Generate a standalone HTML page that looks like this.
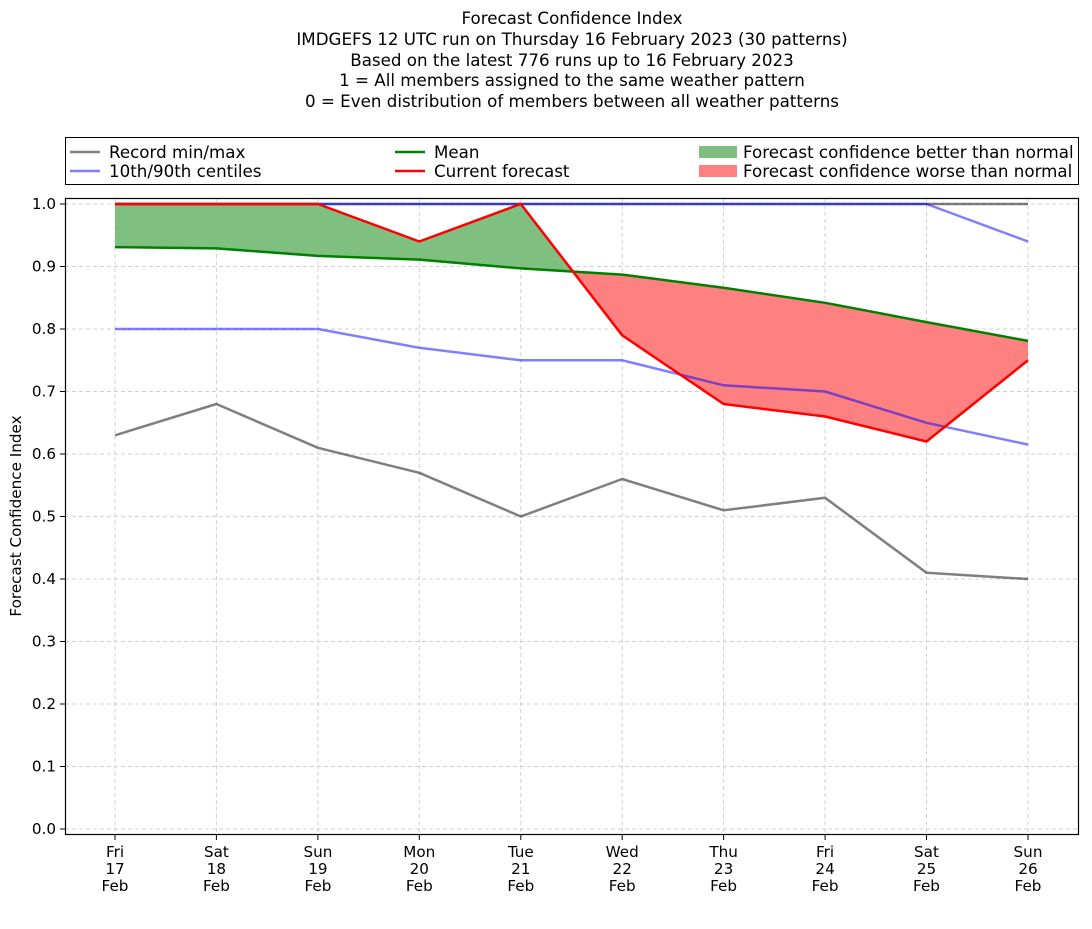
<!DOCTYPE html>
<html><head><meta charset="utf-8"><style>
body{margin:0;background:#fff}
svg text{font-family:"DejaVu Sans","Liberation Sans",sans-serif;fill:#000}
</style></head><body>
<svg width="1092" height="924" xmlns="http://www.w3.org/2000/svg">
<defs>
<clipPath id="above"><polygon points="115,0 115,247.1 216.4,248.4 317.9,255.9 419.3,259.6 520.8,268.4 622.2,274.6 723.6,287.8 825.1,302.8 926.5,322.1 1028,340.9 1028,0"/></clipPath>
<clipPath id="below"><polygon points="115,900 115,247.1 216.4,248.4 317.9,255.9 419.3,259.6 520.8,268.4 622.2,274.6 723.6,287.8 825.1,302.8 926.5,322.1 1028,340.9 1028,900"/></clipPath>
</defs>
<g font-size="16.7" text-anchor="middle">
<text x="572" y="24">Forecast Confidence Index</text>
<text x="572" y="45">IMDGEFS 12 UTC run on Thursday 16 February 2023 (30 patterns)</text>
<text x="572" y="66">Based on the latest 776 runs up to 16 February 2023</text>
<text x="572" y="86">1 = All members assigned to the same weather pattern</text>
<text x="572" y="107">0 = Even distribution of members between all weather patterns</text>
</g>
<rect x="65.5" y="137.5" width="1013" height="47" fill="#fff" stroke="#000"/>
<g font-size="16.7">
<line x1="70" y1="152" x2="100" y2="152" stroke="#808080" stroke-width="2.5"/><text x="109" y="158">Record min/max</text>
<line x1="70" y1="171" x2="100" y2="171" stroke="#8080ff" stroke-width="2.5"/><text x="109" y="177">10th/90th centiles</text>
<line x1="395" y1="152" x2="425" y2="152" stroke="green" stroke-width="2.5"/><text x="434" y="158">Mean</text>
<line x1="395" y1="171" x2="425" y2="171" stroke="red" stroke-width="2.5"/><text x="434" y="177">Current forecast</text>
<rect x="699" y="146" width="38" height="12" fill="#7fbf7f"/><text x="743" y="158">Forecast confidence better than normal</text>
<rect x="699" y="165" width="38" height="12" fill="#ff8080"/><text x="743" y="177">Forecast confidence worse than normal</text>
</g>
<g stroke="#d0d0d0" stroke-dasharray="4,3" stroke-width="1">
<line x1="65" x2="1079" y1="829" y2="829"/><line x1="65" x2="1079" y1="766.5" y2="766.5"/><line x1="65" x2="1079" y1="704" y2="704"/><line x1="65" x2="1079" y1="641.5" y2="641.5"/><line x1="65" x2="1079" y1="579" y2="579"/><line x1="65" x2="1079" y1="516.5" y2="516.5"/><line x1="65" x2="1079" y1="454" y2="454"/><line x1="65" x2="1079" y1="391.5" y2="391.5"/><line x1="65" x2="1079" y1="329" y2="329"/><line x1="65" x2="1079" y1="266.5" y2="266.5"/><line x1="65" x2="1079" y1="204" y2="204"/>
<line y1="198" y2="835" x1="115" x2="115"/><line y1="198" y2="835" x1="216.4" x2="216.4"/><line y1="198" y2="835" x1="317.9" x2="317.9"/><line y1="198" y2="835" x1="419.3" x2="419.3"/><line y1="198" y2="835" x1="520.8" x2="520.8"/><line y1="198" y2="835" x1="622.2" x2="622.2"/><line y1="198" y2="835" x1="723.6" x2="723.6"/><line y1="198" y2="835" x1="825.1" x2="825.1"/><line y1="198" y2="835" x1="926.5" x2="926.5"/><line y1="198" y2="835" x1="1028" x2="1028"/>
</g>
<g>
<polygon clip-path="url(#above)" fill="#7fbf7f" points="115,204 216.4,204 317.9,204 419.3,241.5 520.8,204 622.2,335.3 723.6,404 825.1,416.5 926.5,441.5 1028,360.3 1028,340.9 926.5,322.1 825.1,302.8 723.6,287.8 622.2,274.6 520.8,268.4 419.3,259.6 317.9,255.9 216.4,248.4 115,247.1"/>
<polygon clip-path="url(#below)" fill="#ff8080" points="115,204 216.4,204 317.9,204 419.3,241.5 520.8,204 622.2,335.3 723.6,404 825.1,416.5 926.5,441.5 1028,360.3 1028,340.9 926.5,322.1 825.1,302.8 723.6,287.8 622.2,274.6 520.8,268.4 419.3,259.6 317.9,255.9 216.4,248.4 115,247.1"/>
</g>
<g fill="none" stroke-width="2.5" stroke-linejoin="round">
<polyline stroke="#000" stroke-opacity="0.5" points="115,435.3 216.4,404 317.9,447.8 419.3,472.8 520.8,516.5 622.2,479 723.6,510.3 825.1,497.8 926.5,572.8 1028,579"/>
<polyline stroke="#000" stroke-opacity="0.5" points="115,204 1028,204"/>
<polyline stroke="#0000ff" stroke-opacity="0.5" points="115,329 216.4,329 317.9,329 419.3,347.8 520.8,360.3 622.2,360.3 723.6,385.3 825.1,391.5 926.5,422.8 1028,444.6"/>
<polyline stroke="#0000ff" stroke-opacity="0.5" points="115,204 926.5,204 1028,241.5"/>
<polyline stroke="green" points="115,247.1 216.4,248.4 317.9,255.9 419.3,259.6 520.8,268.4 622.2,274.6 723.6,287.8 825.1,302.8 926.5,322.1 1028,340.9"/>
<polyline stroke="red" points="115,204 216.4,204 317.9,204 419.3,241.5 520.8,204 622.2,335.3 723.6,404 825.1,416.5 926.5,441.5 1028,360.3"/>
</g>
<rect x="65.5" y="198.5" width="1013" height="636" fill="none" stroke="#000" stroke-width="1.2"/>
<g stroke="#000"><line x1="60" x2="65" y1="829" y2="829"/><line x1="60" x2="65" y1="766.5" y2="766.5"/><line x1="60" x2="65" y1="704" y2="704"/><line x1="60" x2="65" y1="641.5" y2="641.5"/><line x1="60" x2="65" y1="579" y2="579"/><line x1="60" x2="65" y1="516.5" y2="516.5"/><line x1="60" x2="65" y1="454" y2="454"/><line x1="60" x2="65" y1="391.5" y2="391.5"/><line x1="60" x2="65" y1="329" y2="329"/><line x1="60" x2="65" y1="266.5" y2="266.5"/><line x1="60" x2="65" y1="204" y2="204"/>
<line y1="835" y2="840" x1="115" x2="115"/><line y1="835" y2="840" x1="216.4" x2="216.4"/><line y1="835" y2="840" x1="317.9" x2="317.9"/><line y1="835" y2="840" x1="419.3" x2="419.3"/><line y1="835" y2="840" x1="520.8" x2="520.8"/><line y1="835" y2="840" x1="622.2" x2="622.2"/><line y1="835" y2="840" x1="723.6" x2="723.6"/><line y1="835" y2="840" x1="825.1" x2="825.1"/><line y1="835" y2="840" x1="926.5" x2="926.5"/><line y1="835" y2="840" x1="1028" x2="1028"/></g>
<g font-size="15.2" text-anchor="end">
<text x="56" y="834">0.0</text><text x="56" y="771.5">0.1</text><text x="56" y="709">0.2</text><text x="56" y="646.5">0.3</text><text x="56" y="584">0.4</text><text x="56" y="521.5">0.5</text><text x="56" y="459">0.6</text><text x="56" y="396.5">0.7</text><text x="56" y="334">0.8</text><text x="56" y="271.5">0.9</text><text x="56" y="209">1.0</text>
</g>
<text font-size="15.2" text-anchor="middle" transform="translate(21,516) rotate(-90)">Forecast Confidence Index</text>
<g font-size="15.2" text-anchor="middle">
<text x="115" y="857">Fri</text><text x="115" y="874">17</text><text x="115" y="891">Feb</text>
<text x="216.4" y="857">Sat</text><text x="216.4" y="874">18</text><text x="216.4" y="891">Feb</text>
<text x="317.9" y="857">Sun</text><text x="317.9" y="874">19</text><text x="317.9" y="891">Feb</text>
<text x="419.3" y="857">Mon</text><text x="419.3" y="874">20</text><text x="419.3" y="891">Feb</text>
<text x="520.8" y="857">Tue</text><text x="520.8" y="874">21</text><text x="520.8" y="891">Feb</text>
<text x="622.2" y="857">Wed</text><text x="622.2" y="874">22</text><text x="622.2" y="891">Feb</text>
<text x="723.6" y="857">Thu</text><text x="723.6" y="874">23</text><text x="723.6" y="891">Feb</text>
<text x="825.1" y="857">Fri</text><text x="825.1" y="874">24</text><text x="825.1" y="891">Feb</text>
<text x="926.5" y="857">Sat</text><text x="926.5" y="874">25</text><text x="926.5" y="891">Feb</text>
<text x="1028" y="857">Sun</text><text x="1028" y="874">26</text><text x="1028" y="891">Feb</text>
</g>
</svg>
</body></html>
